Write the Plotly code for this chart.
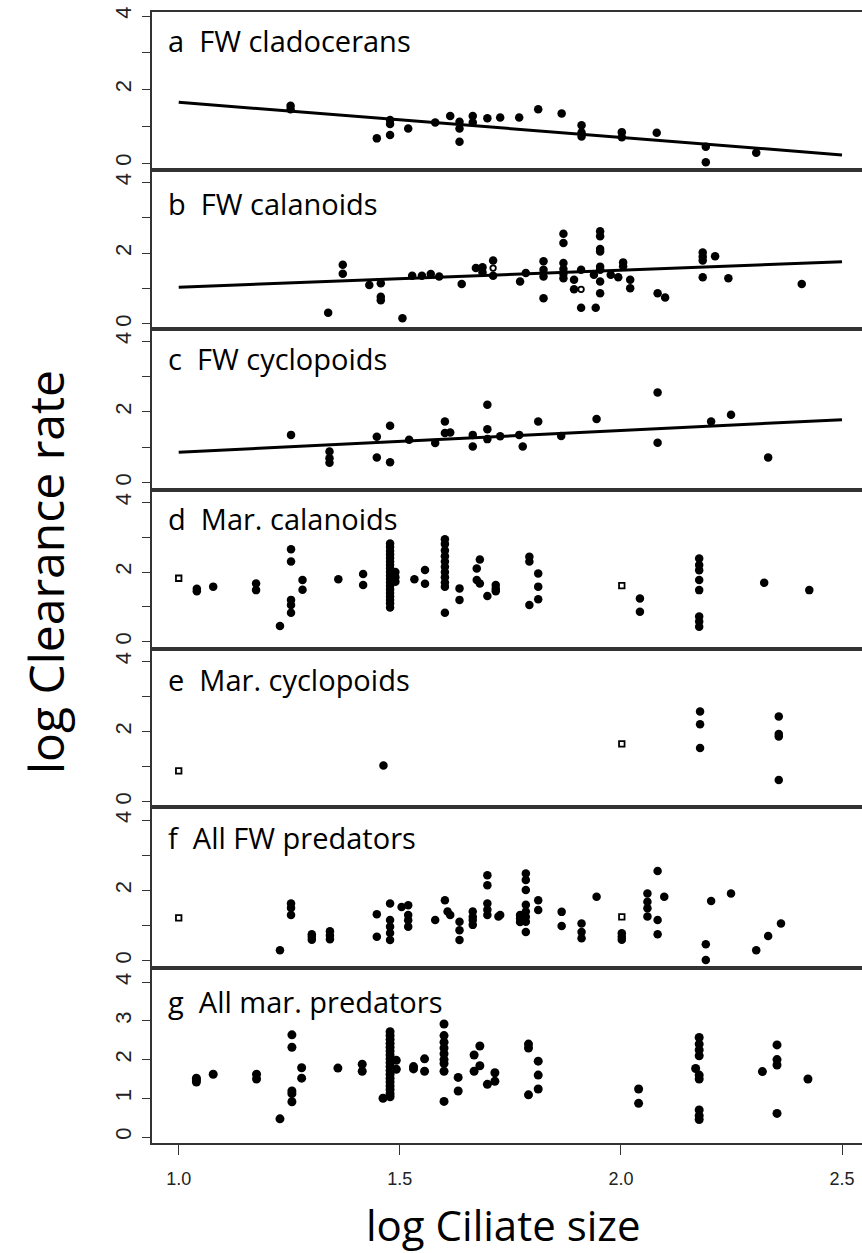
import plotly.graph_objects as go

# ---------------- data (log ciliate size vs log clearance rate) ----------------
a_x = [1.253, 1.253, 1.448, 1.478, 1.478, 1.478, 1.519, 1.58, 1.614, 1.635, 1.635, 1.635, 1.665, 1.665,
       1.698, 1.727, 1.770, 1.813, 1.866, 1.911, 1.911, 1.911, 2.002, 2.002, 2.081, 2.192, 2.192, 2.306]
a_y = [1.56, 1.46, 0.67, 1.17, 1.06, 0.76, 0.94, 1.10, 1.28, 1.12, 0.94, 0.58, 1.28, 1.10,
       1.22, 1.24, 1.24, 1.46, 1.35, 1.03, 0.83, 0.72, 0.84, 0.70, 0.82, 0.44, 0.02, 0.28]
a_fit_y = [1.65, 0.22]

b_x = [1.338, 1.371, 1.371, 1.431, 1.457, 1.457, 1.457, 1.506, 1.528, 1.55, 1.57, 1.589, 1.64, 1.672,
       1.687, 1.687, 1.711, 1.711, 1.772, 1.785, 1.825, 1.825, 1.825, 1.825, 1.87, 1.87, 1.87, 1.87,
       1.87, 1.87, 1.894, 1.894, 1.91, 1.91, 1.939, 1.943, 1.953, 1.953, 1.953, 1.953, 1.953, 1.953,
       1.953, 1.953, 1.977, 1.994, 2.005, 2.005, 2.021, 2.021, 2.083, 2.10, 2.185, 2.185, 2.185, 2.185,
       2.213, 2.243, 2.409]
b_y = [0.32, 1.67, 1.42, 1.10, 1.15, 0.77, 0.67, 0.16, 1.36, 1.36, 1.41, 1.34, 1.13, 1.58,
       1.60, 1.46, 1.79, 1.36, 1.20, 1.44, 1.77, 1.53, 1.34, 0.73, 2.55, 2.29, 1.72, 1.55,
       1.42, 1.29, 1.25, 0.98, 1.53, 0.46, 1.39, 0.46, 2.62, 2.48, 2.12, 2.05, 1.62, 1.53,
       1.20, 0.87, 1.39, 1.32, 1.74, 1.63, 1.25, 1.01, 0.87, 0.75, 2.02, 1.90, 1.79, 1.32,
       1.91, 1.29, 1.13]
b_open_x = [1.711, 1.91]
b_open_y = [1.58, 0.98]
b_fit_y = [1.04, 1.76]

c_x = [1.254, 1.341, 1.341, 1.341, 1.448, 1.448, 1.478, 1.478, 1.521, 1.58, 1.602, 1.602, 1.614, 1.665,
       1.665, 1.698, 1.698, 1.698, 1.727, 1.77, 1.778, 1.813, 1.865, 1.945, 2.083, 2.083, 2.204, 2.249,
       2.333]
c_y = [1.35, 0.88, 0.69, 0.56, 1.30, 0.71, 1.61, 0.58, 1.21, 1.12, 1.73, 1.40, 1.42, 1.35,
       1.02, 2.20, 1.51, 1.23, 1.31, 1.35, 1.02, 1.73, 1.32, 1.80, 2.55, 1.13, 1.73, 1.92,
       0.71]
c_fit_y = [0.86, 1.78]

d_x = [1.041, 1.041, 1.078, 1.175, 1.175, 1.229, 1.254, 1.254, 1.254, 1.254, 1.254, 1.28, 1.28, 1.361,
       1.417, 1.417,
       1.478, 1.478, 1.478, 1.478, 1.478, 1.478, 1.478, 1.478, 1.478, 1.478, 1.478, 1.478, 1.478, 1.478,
       1.478, 1.478, 1.478, 1.478, 1.478,
       1.49, 1.49, 1.49, 1.533, 1.557, 1.557,
       1.602, 1.602, 1.602, 1.602, 1.602, 1.602, 1.602, 1.602, 1.602, 1.602, 1.602,
       1.635, 1.635, 1.674, 1.681, 1.674, 1.681, 1.698, 1.717, 1.717, 1.717,
       1.793, 1.793, 1.793, 1.813, 1.813, 1.813, 2.043, 2.043,
       2.177, 2.177, 2.177, 2.177, 2.177, 2.177, 2.177, 2.177, 2.324, 2.426]
d_y = [1.52, 1.45, 1.58, 1.67, 1.48, 0.45, 2.65, 2.30, 1.20, 1.05, 0.83, 1.77, 1.49, 1.79,
       1.94, 1.63,
       2.82, 2.72, 2.60, 2.50, 2.40, 2.30, 2.20, 2.10, 2.00, 1.90, 1.80, 1.70, 1.60, 1.50,
       1.40, 1.30, 1.20, 1.10, 0.98,
       2.00, 1.85, 1.72, 1.79, 2.06, 1.66,
       2.94, 2.80, 2.62, 2.45, 2.30, 2.15, 2.00, 1.85, 1.70, 1.58, 0.83,
       1.53, 1.20, 2.10, 2.36, 1.77, 1.67, 1.31, 1.63, 1.52, 1.45,
       2.44, 2.30, 1.05, 1.96, 1.58, 1.22, 1.24, 0.86,
       2.39, 2.20, 2.05, 1.77, 1.48, 0.72, 0.58, 0.43, 1.69, 1.48]
d_open_x = [1.0, 2.002]
d_open_y = [1.82, 1.61]

e_x = [1.463, 2.179, 2.179, 2.179, 2.357, 2.357, 2.357, 2.357]
e_y = [1.03, 2.57, 2.21, 1.53, 2.43, 1.93, 1.86, 0.62]
e_open_x = [1.0, 2.002]
e_open_y = [0.88, 1.65]

f_x = [1.229, 1.254, 1.254, 1.254, 1.301, 1.301, 1.301, 1.342, 1.342, 1.342, 1.448, 1.448,
       1.478, 1.478, 1.478, 1.478, 1.478, 1.504, 1.519, 1.519, 1.519, 1.519, 1.58,
       1.602, 1.608, 1.614, 1.635, 1.635, 1.635, 1.665, 1.665, 1.665, 1.665,
       1.698, 1.698, 1.698, 1.698, 1.698, 1.723, 1.727, 1.772, 1.772, 1.772,
       1.785, 1.785, 1.785, 1.785, 1.785, 1.785, 1.785, 1.785, 1.813, 1.813, 1.866, 1.866,
       1.911, 1.911, 1.911, 1.945, 2.002, 2.002, 2.002, 2.06, 2.06, 2.06, 2.06,
       2.083, 2.083, 2.083, 2.098, 2.192, 2.192, 2.204, 2.249, 2.306, 2.333, 2.362]
f_y = [0.30, 1.63, 1.50, 1.30, 0.75, 0.68, 0.60, 0.84, 0.72, 0.61, 1.32, 0.68,
       1.63, 1.16, 0.97, 0.79, 0.59, 1.53, 1.58, 1.30, 1.15, 0.97, 1.16,
       1.72, 1.40, 1.30, 1.11, 0.87, 0.59, 1.40, 1.25, 1.16, 1.02,
       2.43, 2.15, 1.63, 1.45, 1.30, 1.26, 1.30, 1.30, 1.20, 1.10,
       2.48, 2.30, 2.01, 1.59, 1.40, 1.25, 1.11, 0.82, 1.72, 1.44, 1.39, 0.99,
       1.06, 0.82, 0.64, 1.82, 0.78, 0.68, 0.60, 1.91, 1.68, 1.49, 1.26,
       2.55, 1.16, 0.75, 1.82, 0.47, 0.02, 1.70, 1.91, 0.30, 0.70, 1.06]
f_open_x = [1.0, 2.002]
f_open_y = [1.22, 1.25]

g_x = [1.04, 1.04, 1.04, 1.078, 1.176, 1.176, 1.229, 1.256, 1.256, 1.256, 1.256, 1.256, 1.278, 1.278,
       1.36, 1.415, 1.415, 1.462,
       1.478, 1.478, 1.478, 1.478, 1.478, 1.478, 1.478, 1.478, 1.478, 1.478, 1.478, 1.478, 1.478,
       1.478, 1.478, 1.478, 1.478, 1.478,
       1.492, 1.492, 1.531, 1.531, 1.556, 1.556,
       1.6, 1.6, 1.6, 1.6, 1.6, 1.6, 1.6, 1.6, 1.6,
       1.632, 1.632, 1.668, 1.668, 1.681, 1.681, 1.698, 1.715, 1.715,
       1.791, 1.791, 1.791, 1.813, 1.813, 1.813, 2.04, 2.04, 2.169,
       2.177, 2.177, 2.177, 2.177, 2.177, 2.177, 2.177, 2.177, 2.177,
       2.32, 2.353, 2.353, 2.353, 2.353, 2.423]
g_y = [1.52, 1.47, 1.42, 1.62, 1.62, 1.50, 0.47, 2.64, 2.32, 1.19, 1.12, 0.91, 1.79, 1.52,
       1.78, 1.88, 1.70, 1.00,
       2.72, 2.62, 2.52, 2.42, 2.32, 2.22, 2.12, 2.02, 1.92, 1.82, 1.72, 1.62, 1.52,
       1.42, 1.32, 1.22, 1.12, 1.04,
       1.98, 1.75, 1.82, 1.76, 2.02, 1.70,
       2.92, 2.62, 2.45, 2.30, 2.15, 2.00, 1.90, 1.70, 0.92,
       1.54, 1.19, 2.12, 1.70, 2.35, 1.84, 1.36, 1.66, 1.44,
       2.40, 2.30, 1.09, 1.96, 1.60, 1.24, 1.24, 0.87, 1.77,
       2.57, 2.40, 2.25, 2.10, 1.60, 1.50, 0.70, 0.55, 0.45,
       1.69, 2.38, 2.00, 1.86, 0.61, 1.50]

fit_x = [1.0, 2.5]
panel_labels = ["a  FW cladocerans", "b  FW calanoids", "c  FW cyclopoids", "d  Mar. calanoids",
                "e  Mar. cyclopoids", "f  All FW predators", "g  All mar. predators"]
x_tickvals = [1.0, 1.5, 2.0, 2.5]
x_ticktext = ["1.0", "1.5", "2.0", "2.5"]
x_title = "log Ciliate size"
y_title = "log Clearance rate"

# ---------------- layout geometry (pixels) ----------------
W, H = 862, 1253
LEFT = 152
PW = W - LEFT
# (top px, bottom px, y range)
geom = [
    (12.0, 169.5, [-0.177, 4.109]),
    (169.5, 329.3, [-0.150, 4.363]),
    (329.3, 490.0, [-0.207, 4.332]),
    (490.0, 648.7, [-0.201, 4.353]),
    (648.7, 807.3, [-0.160, 4.363]),
    (807.3, 968.3, [-0.216, 4.366]),
    (968.3, 1143.0, [-0.155, 4.359]),
]
label_py = [41, 203, 358, 518, 679, 838, 1001]
XRANGE = [0.9396, 2.5452]

panels = [
    (a_x, a_y, None, None, a_fit_y),
    (b_x, b_y, b_open_x, b_open_y, b_fit_y),
    (c_x, c_y, None, None, c_fit_y),
    (d_x, d_y, d_open_x, d_open_y, None),
    (e_x, e_y, e_open_x, e_open_y, None),
    (f_x, f_y, f_open_x, f_open_y, None),
    (g_x, g_y, None, None, None),
]

fig = go.Figure()
AXC = "#333333"
layout = dict(
    width=W, height=H, plot_bgcolor="white", paper_bgcolor="white",
    margin=dict(l=LEFT, r=0, t=0, b=0), showlegend=False,
)
annotations = []
for i, (px_, py_, ox, oy, fy) in enumerate(panels):
    n = i + 1
    xa = "x" if n == 1 else f"x{n}"
    ya = "y" if n == 1 else f"y{n}"
    xkey = "xaxis" if n == 1 else f"xaxis{n}"
    ykey = "yaxis" if n == 1 else f"yaxis{n}"
    top, bot, yr = geom[i]
    dom = [1 - bot / H, 1 - top / H]
    if fy is not None:
        fig.add_trace(go.Scatter(x=fit_x, y=fy, mode="lines", xaxis=xa, yaxis=ya,
                                 line=dict(color="black", width=3), hoverinfo="skip"))
    fig.add_trace(go.Scatter(x=px_, y=py_, mode="markers", xaxis=xa, yaxis=ya,
                             marker=dict(color="black", size=9 if n == 7 else 8.5, symbol="circle",
                                         line=dict(width=0))))
    if ox is not None:
        sym = "circle-open" if n == 2 else "square-open"
        fig.add_trace(go.Scatter(x=ox, y=oy, mode="markers", xaxis=xa, yaxis=ya,
                                 marker=dict(color="black", size=5.5, symbol=sym,
                                             line=dict(width=1.8, color="black"))))
    last = (n == 7)
    layout[xkey] = dict(
        domain=[0, 1], range=XRANGE, anchor=ya, showline=True, mirror=True,
        linecolor=AXC, linewidth=2, showgrid=False, zeroline=False,
        ticks="outside" if last else "", ticklen=10, tickcolor=AXC, tickwidth=1.2,
        tickvals=x_tickvals, ticktext=x_ticktext, showticklabels=last,
        tickfont=dict(family="Liberation Sans, Arial", size=18, color="#222"),
        ticklabelstandoff=8, automargin=False,
    )
    if not last:
        layout[xkey]["matches"] = "x"
    ytext = ["0", "1", "2", "3", "4"] if last else ["0", "", "2", "", "4"]
    layout[ykey] = dict(
        domain=dom, range=yr, anchor=xa, showline=True, mirror=False,
        linecolor=AXC, linewidth=2, showgrid=False, zeroline=False,
        ticks="outside", ticklen=8, tickcolor=AXC, tickwidth=1.2,
        tickvals=[0, 1, 2, 3, 4], ticktext=ytext, tickangle=-90,
        tickfont=dict(family="Liberation Sans, Arial", size=22, color="#222"),
        ticklabelstandoff=2, automargin=False,
    )
    annotations.append(dict(
        text=panel_labels[i], xref="paper", yref="paper",
        x=(166 - LEFT) / PW, y=1 - label_py[i] / H, xanchor="left", yanchor="middle",
        showarrow=False, font=dict(family="Open Sans", size=29, color="black"),
    ))

annotations.append(dict(text=y_title, xref="paper", yref="paper", x=(45 - LEFT) / PW,
                        y=1 - 572 / H, xanchor="center", yanchor="middle", textangle=-90,
                        showarrow=False, font=dict(family="Open Sans", size=48, color="black")))
annotations.append(dict(text=x_title, xref="paper", yref="paper", x=(503 - LEFT) / PW,
                        y=1 - 1224 / H, xanchor="center", yanchor="middle",
                        showarrow=False, font=dict(family="Open Sans", size=42, color="black")))
layout["annotations"] = annotations
fig.update_layout(**layout)
fig.write_html("out.html", config={"displayModeBar": False},
               post_script="document.body.style.margin='0px';document.body.style.overflow='hidden';")
